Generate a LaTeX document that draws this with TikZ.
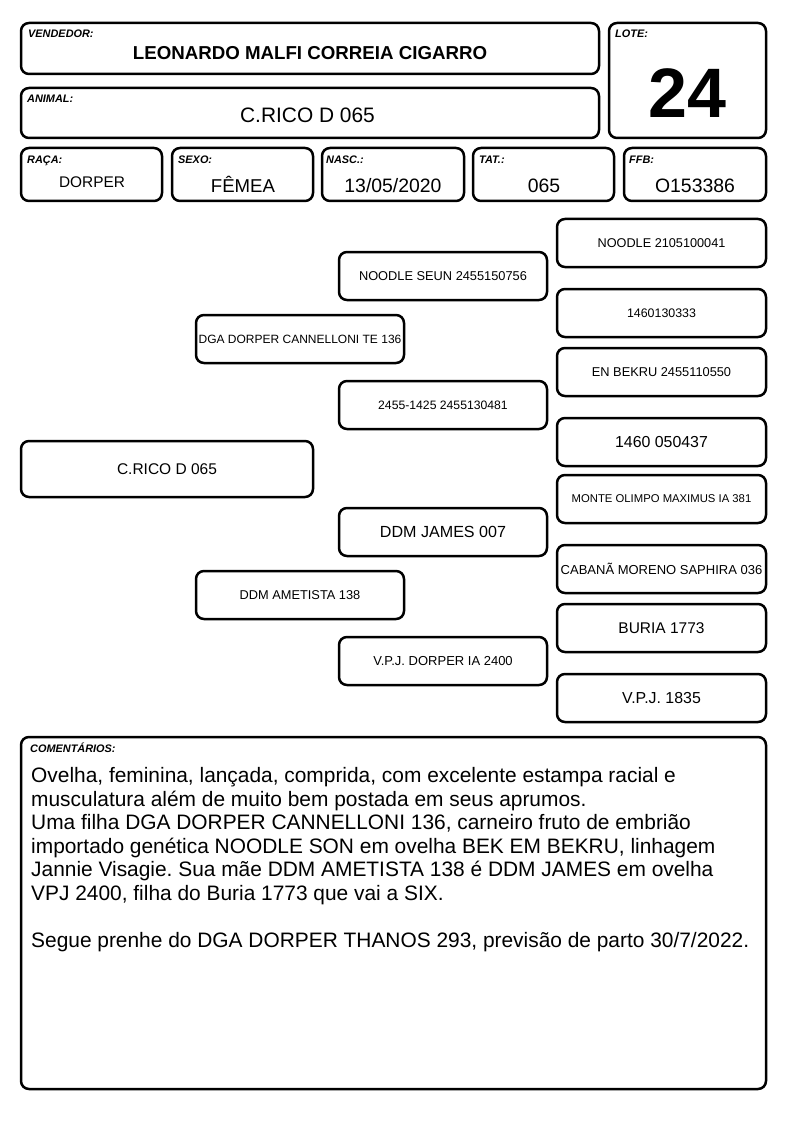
\documentclass[tikz,border=0pt]{standalone}
\usepackage{fontspec}
\setmainfont{Liberation Sans}
\frenchspacing
\newcommand\fs[1]{\fontsize{#1}{#1}\selectfont}
\newcommand\pbox[7]{\node[cardbox, font=\fs{#6}, minimum width={#4-#2}, minimum height={#5-#3}] (#1) at ({(#2+#4)/2},{(#3+#5)/2}) {#7};}
\begin{document}
\begin{tikzpicture}[x=1pt,y=-1pt,
  cardbox/.style={draw, line width=2.5pt, rounded corners=8pt, inner sep=0pt},
  lab/.style={anchor=base west, inner sep=0pt, font=\fs{10.9}\bfseries\itshape},
  val/.style={anchor=base, inner sep=0pt},
  txt/.style={anchor=base west, inner sep=0pt, font=\fs{20.9}\frenchspacing}]
\useasboundingbox[fill=white] (0,0) rectangle (794,1123);
% header
\pbox{vend}{21}{23}{599}{74}{10}{}
\node[lab] (lvend) at (28,38) {VENDEDOR:};
\node[val, font=\fs{18.7}\bfseries] (vvend) at (310,60) {LEONARDO MALFI CORREIA CIGARRO};
\pbox{lote}{609}{23}{766}{138}{10}{}
\node[lab] (llote) at (615,38) {LOTE:};
\node[val, font=\fs{70}\bfseries] (vlote) at (687.5,118) {24};
\pbox{anim}{21}{88}{599}{138}{10}{}
\node[lab] (lanim) at (27,103) {ANIMAL:};
\node[val, font=\fs{20.9}] (vanim) at (307.5,123) {C.RICO D 065};
\pbox{raca}{21}{148}{162}{201}{10}{}
\node[lab] (lraca) at (27,164) {RAÇA:};
\node[val, font=\fs{15.4}] (vraca) at (92,188) {DORPER};
\pbox{sexo}{172}{148}{313}{201}{10}{}
\node[lab] (lsexo) at (178,164) {SEXO:};
\node[val, font=\fs{18.6}] (vsexo) at (243,193) {FÊMEA};
\pbox{nasc}{322}{148}{464}{201}{10}{}
\node[lab] (lnasc) at (326,164) {NASC.:};
\node[val, font=\fs{19.4}] (vnasc) at (393,193) {13/05/2020};
\pbox{tat}{473}{148}{614}{201}{10}{}
\node[lab] (ltat) at (479,164) {TAT.:};
\node[val, font=\fs{19.4}] (vtat) at (544,193) {065};
\pbox{ffb}{624}{148}{766}{201}{10}{}
\node[lab] (lffb) at (629,164) {FFB:};
\node[val, font=\fs{19.4}] (vffb) at (695,193) {O153386};
% pedigree
\pbox{p0}{21}{441}{313}{497}{15.5}{C.RICO D 065}
\pbox{p1}{196}{315}{404}{363}{12}{DGA DORPER CANNELLONI TE 136}
\pbox{p2}{196}{571}{404}{619}{12.8}{DDM AMETISTA 138}
\pbox{p3}{339}{252}{547}{300}{12.8}{NOODLE SEUN 2455150756}
\pbox{p4}{339}{381}{547}{429}{12.2}{2455-1425 2455130481}
\pbox{p5}{339}{508}{547}{556}{16.1}{DDM JAMES 007}
\pbox{p6}{339}{637}{547}{685}{13}{V.P.J. DORPER IA 2400}
\pbox{p7}{557}{219}{766}{267}{12.7}{NOODLE 2105100041}
\pbox{p8}{557}{289}{766}{337}{12.4}{1460130333}
\pbox{p9}{557}{348}{766}{396}{12.8}{EN BEKRU 2455110550}
\pbox{p10}{557}{418}{766}{466}{15.9}{1460 050437}
\pbox{p11}{557}{475}{766}{523}{11.3}{MONTE OLIMPO MAXIMUS IA 381}
\pbox{p12}{557}{545}{766}{593}{13}{CABANÃ MORENO SAPHIRA 036}
\pbox{p13}{557}{604}{766}{652}{15.5}{BURIA 1773}
\pbox{p14}{557}{674}{766}{722}{15.9}{V.P.J. 1835}
% comments
\pbox{com}{21}{737}{766}{1089}{10}{}
\node[lab] (lcom) at (30,752) {COMENTÁRIOS:};
\node[txt] (c1) at (31,782.5) {Ovelha, feminina, lançada, comprida, com excelente estampa racial e};
\node[txt] (c2) at (31,806.1) {musculatura além de muito bem postada em seus aprumos.};
\node[txt] (c3) at (31,829.7) {Uma filha DGA DORPER CANNELLONI 136, carneiro fruto de embrião};
\node[txt] (c4) at (31,853.3) {importado genética NOODLE SON em ovelha BEK EM BEKRU, linhagem};
\node[txt] (c5) at (31,876.9) {Jannie Visagie. Sua mãe DDM AMETISTA 138 é DDM JAMES em ovelha};
\node[txt] (c6) at (31,900.5) {VPJ 2400, filha do Buria 1773 que vai a SIX.};
\node[txt] (c8) at (31,947.7) {Segue prenhe do DGA DORPER THANOS 293, previsão de parto 30/7/2022.};
\end{tikzpicture}
\end{document}
